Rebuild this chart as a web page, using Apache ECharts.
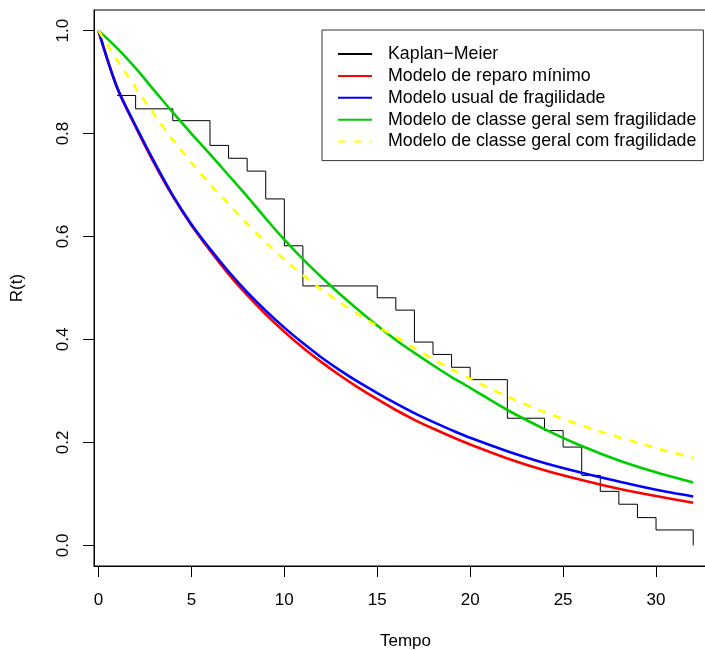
<!DOCTYPE html>
<html>
<head>
<meta charset="utf-8">
<script src="https://cdn.jsdelivr.net/npm/echarts@6/dist/echarts.min.js"></script>
<style>
html,body{margin:0;padding:0;background:#fff;}
#chart{width:705px;height:650px;}
</style>
</head>
<body>
<div id="chart"></div>
<script>
// ---- data ----
const kmTime = [1,2,4,6,7,8,9,10,11,15,16,17,18,19,20,22,24,25,26,27,28,29,30,32];
const kmSurv = [0.874,0.848,0.825,0.777,0.752,0.727,0.673,0.582,0.504,0.481,0.457,0.395,0.371,0.346,0.322,0.247,0.223,0.191,0.136,0.105,0.080,0.054,0.030,0.000];

const modelTime = [0,1,2,3,4,5,6,7,8,9,10,11,12,13,14,15,16,17,18,19,20,22,24,26,28,30,32];
const reparoMinimo = [1.000,0.889,0.813,0.742,0.678,0.622,0.573,0.527,0.486,0.449,0.415,0.384,0.356,0.330,0.306,0.284,0.263,0.244,0.227,0.211,0.196,0.169,0.146,0.127,0.110,0.096,0.083];
const usualFragilidade = [1.000,0.890,0.815,0.745,0.680,0.624,0.576,0.532,0.492,0.456,0.423,0.393,0.365,0.340,0.317,0.296,0.276,0.257,0.240,0.224,0.209,0.183,0.160,0.141,0.124,0.108,0.095];
const geralSemFragilidade = [1.000,0.966,0.927,0.884,0.841,0.800,0.760,0.719,0.678,0.635,0.594,0.556,0.521,0.488,0.457,0.427,0.399,0.374,0.350,0.327,0.306,0.263,0.226,0.193,0.165,0.142,0.122];
const geralComFragilidade = [1.000,0.943,0.889,0.837,0.788,0.743,0.702,0.663,0.625,0.589,0.555,0.525,0.497,0.472,0.448,0.426,0.405,0.383,0.362,0.342,0.324,0.289,0.259,0.233,0.210,0.189,0.170];

const xTicks = [0,5,10,15,20,25,30];
const yTicks = [0,0.2,0.4,0.6,0.8,1.0];

const seriesNames = ['Kaplan\u2212Meier','Modelo de reparo m\u00ednimo','Modelo usual de fragilidade','Modelo de classe geral sem fragilidade','Modelo de classe geral com fragilidade'];

// ---- build ----
const zip = (xs, ys) => xs.map((x, i) => [x, ys[i]]);
const FONT = "'Liberation Sans', Arial, Helvetica, sans-serif";

const chart = echarts.init(document.getElementById('chart'), null, {renderer: 'canvas'});
const curve = (name, vals, color, type) => ({
  name: name, type: 'line', data: zip(modelTime, vals),
  smooth: 0.3, symbol: 'none', clip: true,
  lineStyle: {color: color, width: 2.6, type: type || 'solid', dashOffset: 0},
  itemStyle: {color: color}
});

chart.setOption({
  animation: false,
  backgroundColor: '#fff',
  textStyle: {fontFamily: FONT},
  grid: {left: 94, top: 10, right: -12, bottom: 84, show: true, borderColor: '#000', borderWidth: 1,
         containLabel: false, outerBoundsMode: 'none'},
  xAxis: {
    type: 'value', min: -0.24, max: 33.28,
    axisLine: {show: true, onZero: false, lineStyle: {color: '#000', width: 1}},
    axisTick: {show: true, length: 11, customValues: xTicks, lineStyle: {color: '#000'}},
    axisLabel: {customValues: xTicks, fontSize: 17, color: '#000', margin: 26, fontFamily: FONT},
    splitLine: {show: false},
    name: 'Tempo', nameLocation: 'middle', nameGap: 67,
    nameTextStyle: {fontSize: 17, color: '#000', fontFamily: FONT}
  },
  yAxis: {
    type: 'value', min: -0.04, max: 1.04,
    axisLine: {show: true, onZero: false, lineStyle: {color: '#000', width: 1}},
    axisTick: {show: true, length: 11, customValues: yTicks, lineStyle: {color: '#000'}},
    axisLabel: {customValues: yTicks, fontSize: 17, color: '#000', rotate: 90, margin: 22,
      formatter: v => v.toFixed(1), fontFamily: FONT},
    splitLine: {show: false},
    name: 'R(t)', nameLocation: 'middle', nameGap: 68, nameRotate: 90,
    nameTextStyle: {fontSize: 17, color: '#000', fontFamily: FONT}
  },
  legend: {
    orient: 'vertical', left: 322, top: 30,
    padding: [15, 7, 10, 15],
    itemWidth: 34, itemHeight: 14, itemGap: 3.9,
    itemStyle: {opacity: 0, borderWidth: 0},
    borderColor: '#333', borderWidth: 1, backgroundColor: '#fff',
    textStyle: {fontSize: 17.8, lineHeight: 17.8, color: '#000', fontFamily: FONT, padding: [0,0,0,11]},
    data: seriesNames
  },
  series: [
    {name: seriesNames[0], type: 'line', step: 'end', data: zip(kmTime, kmSurv), symbol: 'none',
     lineStyle: {color: '#000', width: 1}, itemStyle: {color: '#000'}},
    curve(seriesNames[1], reparoMinimo, '#FF0000'),
    curve(seriesNames[2], usualFragilidade, '#0000FF'),
    curve(seriesNames[3], geralSemFragilidade, '#00CD00'),
    curve(seriesNames[4], geralComFragilidade, '#FFFF00', [8, 8])
  ]
});
</script>
</body>
</html>
